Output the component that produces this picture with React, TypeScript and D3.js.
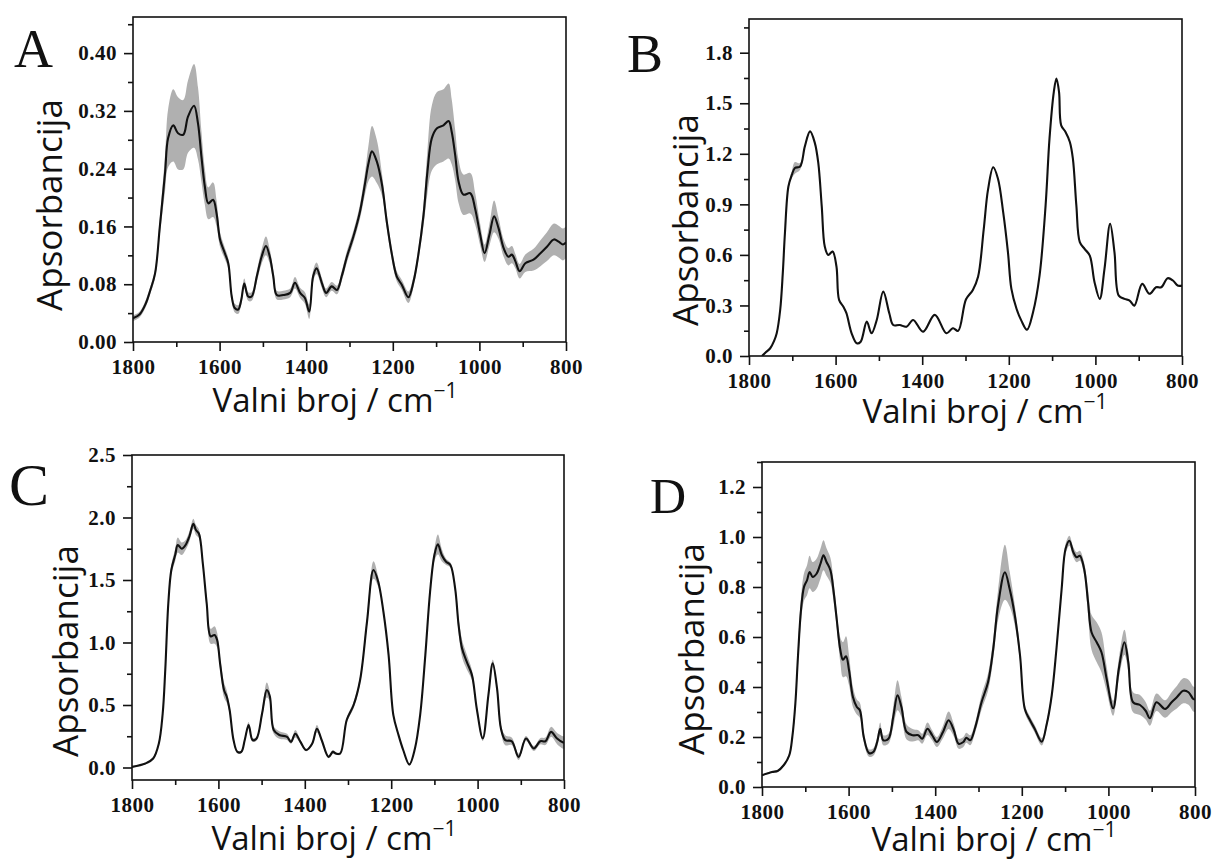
import React, { useEffect, useRef } from 'react';
import * as d3 from 'd3';

// wavenumber axis, shared by all four panels
const xTicks = [1800, 1600, 1400, 1200, 1000, 800];
const xMinor = [1700, 1500, 1300, 1100, 900];

// panel A
const aWave = [1800, 1785, 1770, 1761, 1749, 1738, 1726, 1719, 1707, 1696, 1684, 1673, 1659, 1650, 1642, 1634, 1626, 1615, 1607, 1599, 1588, 1580, 1572, 1565, 1557, 1550, 1543, 1534, 1526, 1514, 1503, 1493, 1484, 1476, 1468, 1453, 1437, 1426, 1414, 1403, 1393, 1384, 1376, 1364, 1354, 1341, 1329, 1318, 1306, 1291, 1276, 1264, 1256, 1248, 1237, 1225, 1214, 1202, 1191, 1179, 1164, 1152, 1141, 1129, 1120, 1110, 1098, 1083, 1071, 1064, 1056, 1048, 1037, 1021, 1010, 998, 988, 977, 966, 956, 944, 933, 925, 917, 907, 894, 875, 859, 844, 828, 817, 807, 800];
const aMean = [0.033, 0.038, 0.054, 0.07, 0.095, 0.16, 0.234, 0.282, 0.3, 0.289, 0.287, 0.312, 0.327, 0.303, 0.257, 0.215, 0.192, 0.197, 0.178, 0.142, 0.123, 0.109, 0.063, 0.047, 0.045, 0.058, 0.081, 0.063, 0.063, 0.091, 0.118, 0.133, 0.118, 0.091, 0.065, 0.065, 0.068, 0.082, 0.068, 0.061, 0.042, 0.091, 0.102, 0.082, 0.068, 0.077, 0.072, 0.091, 0.118, 0.146, 0.18, 0.22, 0.248, 0.264, 0.25, 0.218, 0.167, 0.121, 0.091, 0.079, 0.062, 0.084, 0.121, 0.176, 0.236, 0.282, 0.296, 0.3, 0.306, 0.291, 0.259, 0.222, 0.204, 0.206, 0.185, 0.148, 0.123, 0.148, 0.174, 0.158, 0.13, 0.118, 0.121, 0.112, 0.098, 0.109, 0.114, 0.123, 0.132, 0.142, 0.139, 0.135, 0.138];
const aSd = [0.004, 0.004, 0.005, 0.005, 0.006, 0.012, 0.025, 0.04, 0.05, 0.05, 0.048, 0.05, 0.058, 0.05, 0.035, 0.025, 0.022, 0.024, 0.018, 0.01, 0.008, 0.007, 0.006, 0.006, 0.006, 0.006, 0.007, 0.006, 0.006, 0.008, 0.01, 0.013, 0.01, 0.008, 0.006, 0.006, 0.006, 0.008, 0.007, 0.008, 0.01, 0.008, 0.008, 0.007, 0.006, 0.006, 0.006, 0.007, 0.008, 0.008, 0.01, 0.015, 0.025, 0.035, 0.03, 0.015, 0.01, 0.008, 0.007, 0.007, 0.008, 0.007, 0.008, 0.015, 0.03, 0.045, 0.05, 0.05, 0.052, 0.045, 0.035, 0.03, 0.028, 0.028, 0.022, 0.015, 0.012, 0.015, 0.022, 0.015, 0.012, 0.012, 0.012, 0.01, 0.01, 0.012, 0.015, 0.018, 0.02, 0.022, 0.022, 0.022, 0.022];
const aYTicks = [0, 0.08, 0.16, 0.24, 0.32, 0.4];

// panel B
const bWave = [1770, 1760, 1751, 1742, 1736, 1728, 1722, 1717, 1709, 1701, 1694, 1682, 1671, 1659, 1648, 1640, 1632, 1625, 1617, 1607, 1598, 1592, 1582, 1575, 1563, 1551, 1542, 1528, 1517, 1505, 1490, 1476, 1467, 1452, 1436, 1421, 1398, 1371, 1344, 1329, 1317, 1299, 1283, 1271, 1258, 1248, 1236, 1225, 1213, 1202, 1194, 1182, 1171, 1158, 1144, 1129, 1115, 1106, 1096, 1090, 1084, 1079, 1069, 1059, 1052, 1044, 1036, 1025, 1013, 1002, 990, 979, 966, 956, 946, 933, 921, 910, 892, 875, 860, 848, 833, 821, 810, 800];
const bMean = [0.0, 0.025, 0.046, 0.09, 0.135, 0.273, 0.49, 0.73, 1.006, 1.076, 1.116, 1.125, 1.244, 1.333, 1.265, 1.146, 0.888, 0.65, 0.6, 0.62, 0.531, 0.333, 0.293, 0.254, 0.135, 0.075, 0.085, 0.204, 0.135, 0.214, 0.382, 0.254, 0.184, 0.184, 0.174, 0.214, 0.144, 0.244, 0.135, 0.165, 0.149, 0.335, 0.392, 0.47, 0.75, 0.987, 1.12, 1.052, 0.854, 0.617, 0.398, 0.279, 0.21, 0.156, 0.26, 0.477, 0.894, 1.29, 1.568, 1.647, 1.568, 1.369, 1.33, 1.27, 1.171, 0.894, 0.676, 0.636, 0.596, 0.438, 0.339, 0.517, 0.785, 0.617, 0.358, 0.339, 0.329, 0.299, 0.428, 0.369, 0.408, 0.408, 0.462, 0.448, 0.418, 0.418];
const bSd = [0.004, 0.004, 0.004, 0.005, 0.005, 0.006, 0.006, 0.008, 0.01, 0.02, 0.035, 0.02, 0.008, 0.006, 0.006, 0.006, 0.006, 0.006, 0.006, 0.006, 0.006, 0.006, 0.006, 0.006, 0.005, 0.005, 0.005, 0.005, 0.005, 0.005, 0.006, 0.005, 0.005, 0.005, 0.005, 0.005, 0.005, 0.005, 0.005, 0.005, 0.005, 0.005, 0.006, 0.006, 0.006, 0.006, 0.006, 0.006, 0.006, 0.006, 0.006, 0.005, 0.005, 0.005, 0.005, 0.006, 0.006, 0.006, 0.006, 0.006, 0.006, 0.006, 0.006, 0.006, 0.006, 0.006, 0.006, 0.01, 0.01, 0.006, 0.006, 0.006, 0.006, 0.006, 0.005, 0.005, 0.005, 0.005, 0.005, 0.005, 0.005, 0.005, 0.005, 0.005, 0.005, 0.005];
const bYTicks = [0, 0.3, 0.6, 0.9, 1.2, 1.5, 1.8];

// panel C
const cWave = [1800, 1769, 1751, 1738, 1729, 1723, 1716, 1709, 1700, 1694, 1685, 1676, 1667, 1658, 1652, 1645, 1636, 1627, 1618, 1609, 1603, 1596, 1587, 1581, 1574, 1565, 1556, 1547, 1539, 1530, 1521, 1512, 1499, 1488, 1481, 1472, 1459, 1441, 1432, 1422, 1410, 1397, 1383, 1372, 1361, 1345, 1335, 1328, 1318, 1303, 1287, 1272, 1256, 1241, 1230, 1218, 1206, 1195, 1183, 1172, 1158, 1145, 1133, 1121, 1110, 1100, 1092, 1083, 1073, 1063, 1052, 1044, 1036, 1025, 1013, 1002, 988, 975, 965, 955, 946, 936, 921, 905, 888, 870, 855, 843, 830, 816, 802, 800];
const cMean = [0.005, 0.032, 0.072, 0.19, 0.43, 0.78, 1.31, 1.58, 1.7, 1.78, 1.75, 1.78, 1.85, 1.95, 1.9, 1.87, 1.63, 1.31, 1.05, 1.06, 1.02, 0.83, 0.62, 0.57, 0.46, 0.22, 0.125, 0.125, 0.22, 0.34, 0.22, 0.23, 0.43, 0.62, 0.57, 0.3, 0.26, 0.245, 0.205, 0.27, 0.205, 0.14, 0.19, 0.31, 0.22, 0.085, 0.125, 0.112, 0.112, 0.38, 0.5, 0.7, 1.166, 1.58, 1.486, 1.246, 0.899, 0.419, 0.259, 0.138, 0.024, 0.152, 0.419, 0.899, 1.406, 1.7, 1.785, 1.7, 1.646, 1.62, 1.433, 1.139, 0.953, 0.845, 0.739, 0.472, 0.232, 0.579, 0.833, 0.633, 0.312, 0.219, 0.21, 0.085, 0.232, 0.152, 0.21, 0.21, 0.285, 0.232, 0.2, 0.2];
const cSd = [0.005, 0.005, 0.008, 0.01, 0.015, 0.02, 0.03, 0.04, 0.05, 0.06, 0.05, 0.04, 0.04, 0.04, 0.04, 0.035, 0.03, 0.04, 0.06, 0.07, 0.06, 0.05, 0.06, 0.05, 0.03, 0.015, 0.01, 0.01, 0.015, 0.025, 0.015, 0.015, 0.03, 0.06, 0.04, 0.03, 0.03, 0.025, 0.015, 0.03, 0.015, 0.01, 0.015, 0.03, 0.015, 0.01, 0.015, 0.01, 0.01, 0.02, 0.025, 0.03, 0.04, 0.07, 0.04, 0.02, 0.015, 0.01, 0.01, 0.01, 0.01, 0.01, 0.01, 0.015, 0.03, 0.05, 0.08, 0.05, 0.025, 0.02, 0.03, 0.06, 0.07, 0.06, 0.04, 0.02, 0.02, 0.02, 0.03, 0.03, 0.03, 0.04, 0.03, 0.025, 0.02, 0.02, 0.025, 0.03, 0.04, 0.045, 0.05, 0.05];
const cYTicks = [0, 0.5, 1.0, 1.5, 2.0, 2.5];

// panel D
const dWave = [1800, 1777, 1764, 1750, 1737, 1730, 1723, 1717, 1710, 1703, 1696, 1690, 1683, 1674, 1665, 1658, 1651, 1642, 1635, 1628, 1619, 1613, 1606, 1599, 1590, 1581, 1574, 1565, 1553, 1543, 1534, 1527, 1520, 1508, 1497, 1487, 1478, 1466, 1452, 1439, 1430, 1418, 1407, 1396, 1382, 1369, 1357, 1346, 1335, 1328, 1319, 1308, 1293, 1278, 1266, 1255, 1239, 1228, 1216, 1204, 1193, 1181, 1170, 1154, 1143, 1131, 1120, 1108, 1099, 1090, 1081, 1073, 1066, 1056, 1047, 1039, 1027, 1016, 1004, 989, 976, 963, 954, 943, 927, 914, 904, 889, 869, 854, 842, 827, 815, 804, 800];
const dMean = [0.047, 0.06, 0.064, 0.087, 0.127, 0.2, 0.333, 0.52, 0.707, 0.8, 0.827, 0.86, 0.84, 0.853, 0.893, 0.927, 0.9, 0.867, 0.787, 0.68, 0.547, 0.509, 0.523, 0.467, 0.36, 0.32, 0.307, 0.2, 0.136, 0.14, 0.18, 0.233, 0.187, 0.193, 0.28, 0.367, 0.32, 0.22, 0.207, 0.207, 0.193, 0.233, 0.207, 0.18, 0.22, 0.267, 0.227, 0.173, 0.18, 0.197, 0.187, 0.236, 0.339, 0.419, 0.552, 0.725, 0.859, 0.792, 0.685, 0.525, 0.312, 0.267, 0.232, 0.181, 0.247, 0.365, 0.552, 0.792, 0.952, 0.985, 0.939, 0.919, 0.925, 0.872, 0.739, 0.619, 0.579, 0.539, 0.432, 0.315, 0.472, 0.579, 0.499, 0.339, 0.328, 0.305, 0.275, 0.339, 0.312, 0.339, 0.359, 0.385, 0.379, 0.352, 0.35];
const dSd = [0.003, 0.003, 0.004, 0.005, 0.008, 0.015, 0.025, 0.04, 0.05, 0.055, 0.06, 0.065, 0.06, 0.06, 0.06, 0.06, 0.055, 0.05, 0.04, 0.035, 0.05, 0.07, 0.08, 0.06, 0.04, 0.03, 0.03, 0.02, 0.015, 0.015, 0.02, 0.025, 0.02, 0.02, 0.04, 0.06, 0.04, 0.03, 0.025, 0.02, 0.02, 0.025, 0.02, 0.02, 0.025, 0.035, 0.025, 0.02, 0.02, 0.02, 0.02, 0.02, 0.03, 0.035, 0.04, 0.06, 0.11, 0.07, 0.04, 0.025, 0.015, 0.015, 0.015, 0.015, 0.015, 0.015, 0.015, 0.015, 0.02, 0.02, 0.02, 0.02, 0.02, 0.025, 0.05, 0.07, 0.08, 0.08, 0.05, 0.03, 0.04, 0.05, 0.04, 0.04, 0.04, 0.035, 0.03, 0.035, 0.035, 0.04, 0.045, 0.05, 0.05, 0.05, 0.05];
const dYTicks = [0, 0.2, 0.4, 0.6, 0.8, 1.0, 1.2];

interface Panel {
  id: string;
  letter: string;
  wave: number[];
  mean: number[];
  sd: number[];
  yDomain: [number, number];
  yTicks: number[];
  minorStep: number;
  fmt: string;
  box: { l: number; r: number; t: number; b: number };
  letterAt: [number, number, number];
  yLabelAt: [number, number];
  xLabelAt: [number, number];
}

const panels: Panel[] = [
  {
    id: 'a', letter: 'A', wave: aWave, mean: aMean, sd: aSd, yDomain: [0, 0.45], yTicks: aYTicks, minorStep: 0.04, fmt: '.2f',
    box: { l: 133, r: 566, t: 17, b: 342 }, letterAt: [14, 67, 54], yLabelAt: [62, 205], xLabelAt: [335, 412],
  },
  {
    id: 'b', letter: 'B', wave: bWave, mean: bMean, sd: bSd, yDomain: [0, 2.0], yTicks: bYTicks, minorStep: 0.15, fmt: '.1f',
    box: { l: 749, r: 1182, t: 19, b: 356 }, letterAt: [627, 72, 54], yLabelAt: [698, 220], xLabelAt: [985, 423],
  },
  {
    id: 'c', letter: 'C', wave: cWave, mean: cMean, sd: cSd, yDomain: [-0.1, 2.5], yTicks: cYTicks, minorStep: 0.25, fmt: '.1f',
    box: { l: 132, r: 564, t: 455, b: 780 }, letterAt: [9, 505, 60], yLabelAt: [78, 651], xLabelAt: [334, 850],
  },
  {
    id: 'd', letter: 'D', wave: dWave, mean: dMean, sd: dSd, yDomain: [0, 1.3], yTicks: dYTicks, minorStep: 0.1, fmt: '.1f',
    box: { l: 762, r: 1195, t: 462, b: 787 }, letterAt: [650, 513, 50], yLabelAt: [704, 649], xLabelAt: [994, 851],
  },
];

const serif = '"Liberation Serif", "Times New Roman", serif';
const sans = '"Open Sans", "Noto Sans", sans-serif';

const App: React.FC = () => {
  const svgRef = useRef<SVGSVGElement | null>(null);

  useEffect(() => {
    const svg = d3.select(svgRef.current);
    svg.selectAll('*').remove();

    panels.forEach((p) => {
      const { l, r, t, b } = p.box;
      const x = d3.scaleLinear().domain([1800, 800]).range([l, r]);
      const y = d3.scaleLinear().domain(p.yDomain).range([b, t]);
      const g = svg.append('g');

      g.append('clipPath')
        .attr('id', `clip-${p.id}`)
        .append('rect')
        .attr('x', l).attr('y', t).attr('width', r - l).attr('height', b - t);

      const pts = p.wave.map((w, i) => ({ w, m: p.mean[i], s: p.sd[i] }));

      const area = d3.area<{ w: number; m: number; s: number }>()
        .x((d) => x(d.w))
        .y0((d) => y(d.m - d.s))
        .y1((d) => y(d.m + d.s))
        .curve(d3.curveCatmullRom.alpha(0.5));

      const line = d3.line<{ w: number; m: number; s: number }>()
        .x((d) => x(d.w))
        .y((d) => y(d.m))
        .curve(d3.curveCatmullRom.alpha(0.5));

      const plot = g.append('g').attr('clip-path', `url(#clip-${p.id})`);
      plot.append('path').datum(pts).attr('d', area).attr('fill', '#b0b0b0');
      plot.append('path').datum(pts).attr('d', line)
        .attr('fill', 'none').attr('stroke', '#111').attr('stroke-width', 2.1)
        .attr('stroke-linejoin', 'round');

      // x axis
      g.append('g')
        .attr('transform', `translate(0,${b})`)
        .call(d3.axisBottom(x).tickValues(xMinor).tickSize(5).tickFormat(() => ''))
        .call((s) => s.select('.domain').remove());
      g.append('g')
        .attr('transform', `translate(0,${b})`)
        .call(d3.axisBottom(x).tickValues(xTicks).tickSize(9).tickPadding(8).tickFormat(d3.format('d')))
        .call((s) => s.select('.domain').remove());

      // y axis
      const [y0, y1] = p.yDomain;
      const minor = d3.range(Math.ceil(y0 / p.minorStep) * p.minorStep, y1 + 1e-9, p.minorStep)
        .filter((v) => !p.yTicks.some((tk) => Math.abs(tk - v) < 1e-6));
      g.append('g')
        .attr('transform', `translate(${l},0)`)
        .call(d3.axisLeft(y).tickValues(minor).tickSize(5).tickFormat(() => ''))
        .call((s) => s.select('.domain').remove());
      g.append('g')
        .attr('transform', `translate(${l},0)`)
        .call(d3.axisLeft(y).tickValues(p.yTicks).tickSize(9).tickPadding(7).tickFormat(d3.format(p.fmt)))
        .call((s) => s.select('.domain').remove());

      g.selectAll('.tick line').attr('stroke', '#111').attr('stroke-width', 1.6);
      g.selectAll('.tick text')
        .attr('fill', '#111')
        .style('font-family', serif)
        .style('font-weight', 'bold')
        .style('font-size', '21px')
        .style('letter-spacing', '0.5px');

      // frame
      g.append('rect')
        .attr('x', l).attr('y', t).attr('width', r - l).attr('height', b - t)
        .attr('fill', 'none').attr('stroke', '#111').attr('stroke-width', 1.6);

      // panel letter
      g.append('text')
        .attr('x', p.letterAt[0]).attr('y', p.letterAt[1])
        .style('font-family', serif).style('font-size', `${p.letterAt[2]}px`)
        .attr('fill', '#111')
        .text(p.letter);

      // axis titles
      g.append('text')
        .attr('transform', `translate(${p.yLabelAt[0]},${p.yLabelAt[1]}) rotate(-90)`)
        .attr('text-anchor', 'middle')
        .style('font-family', sans).style('font-size', '35px')
        .attr('fill', '#111')
        .text('Apsorbancija');

      const xl = g.append('text')
        .attr('x', p.xLabelAt[0]).attr('y', p.xLabelAt[1])
        .attr('text-anchor', 'middle')
        .style('font-family', sans).style('font-size', '33px')
        .attr('fill', '#111');
      xl.append('tspan').text('Valni broj / cm');
      xl.append('tspan').attr('dy', -14).style('font-size', '21px').text('\u22121');
    });
  }, []);

  return (
    <svg
      ref={svgRef}
      width={1213}
      height={860}
      style={{ position: 'absolute', left: 0, top: 0, background: '#fff' }}
    />
  );
};

export default App;
